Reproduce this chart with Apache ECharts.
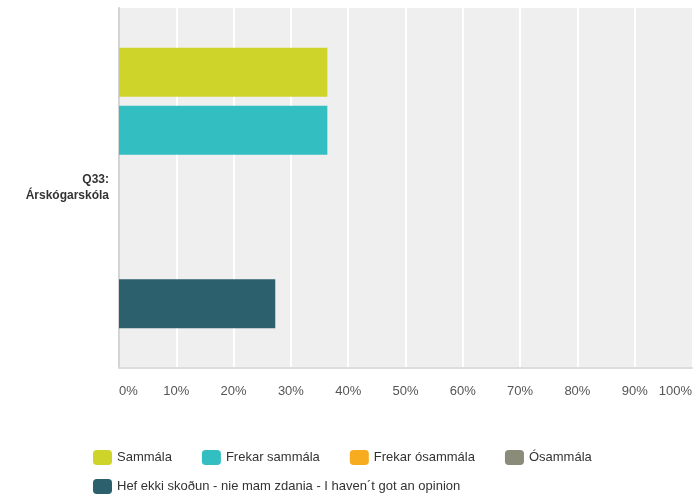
<!DOCTYPE html>
<html>
<head>
<meta charset="utf-8">
<script src="https://cdn.jsdelivr.net/npm/echarts@6/dist/echarts.min.js"></script>
<style>
html,body{margin:0;padding:0;background:#fff;}
#c{width:695px;height:496px;}
</style>
</head>
<body>
<div id="c"></div>
<script>
const categories = ['Q33:\nÁrskógarskóla'];
const seriesNames = ['Sammála', 'Frekar sammála', 'Frekar ósammála', 'Ósammála', 'Hef ekki skoðun - nie mam zdania - I haven´t got an opinion'];
const seriesValues = [[36.36], [36.36], [0], [0], [27.27]];
const seriesColors = ['#cfd42b', '#33bec1', '#f7ac1f', '#8a8b79', '#2d606d'];
const xTicks = [0, 10, 20, 30, 40, 50, 60, 70, 80, 90, 100];

const chart = echarts.init(document.getElementById('c'), null, {renderer: 'canvas'});
const font = 'Arial, "Liberation Sans", Helvetica, sans-serif';
chart.setOption({
  animation: false,
  textStyle: {fontFamily: font},
  grid: {left: 119, right: 1, top: 8, bottom: 128, containLabel: false,
         show: true, backgroundColor: '#efefef', borderWidth: 0},
  xAxis: {
    type: 'value', min: xTicks[0], max: xTicks[xTicks.length - 1], interval: 10,
    axisLine: {show: true, lineStyle: {color: '#dcdcdc', width: 2}},
    axisTick: {show: false},
    splitLine: {show: true, showMaxLine: false, showMinLine: false, lineStyle: {color: '#ffffff', width: 2}},
    axisLabel: {formatter: '{value}%', color: '#555', fontSize: 13, margin: 17,
                alignMinLabel: 'left', alignMaxLabel: 'right', fontFamily: font}
  },
  yAxis: {
    type: 'category', data: categories, inverse: true,
    axisLine: {show: true, lineStyle: {color: '#d4d4d4', width: 2}},
    axisTick: {show: false},
    splitLine: {show: false},
    axisLabel: {color: '#333', fontSize: 12, fontWeight: 'bold', lineHeight: 16,
                margin: 10, align: 'right', fontFamily: font}
  },
  legend: [
    {data: seriesNames.slice(0, 4), left: 88, top: 445, itemWidth: 19, itemHeight: 15,
     itemGap: 30, icon: 'roundRect', selectedMode: false,
     textStyle: {color: '#333', fontSize: 13, fontFamily: font}},
    {data: seriesNames.slice(4), left: 88, top: 474, itemWidth: 19, itemHeight: 15,
     icon: 'roundRect', selectedMode: false,
     textStyle: {color: '#333', fontSize: 13, fontFamily: font}}
  ],
  series: seriesNames.map((n, i) => ({
    name: n, type: 'bar', data: seriesValues[i], barWidth: 49, barGap: '18%',
    itemStyle: {color: seriesColors[i]}
  }))
});
</script>
</body>
</html>
